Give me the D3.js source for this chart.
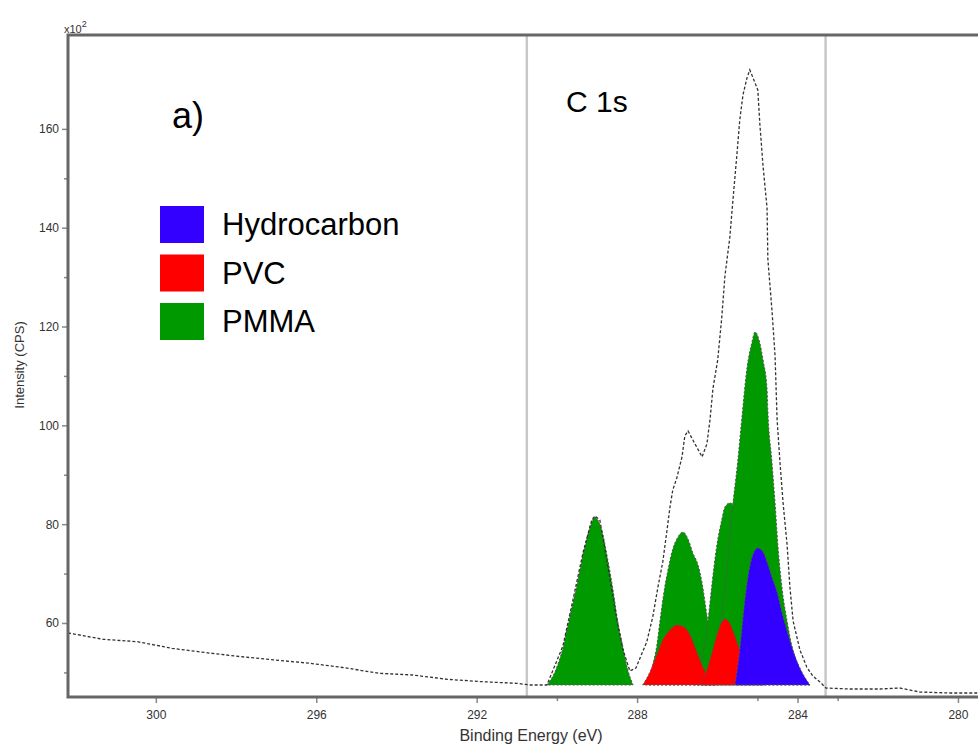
<!DOCTYPE html>
<html><head><meta charset="utf-8">
<script src="https://cdn.jsdelivr.net/npm/d3@7"></script>
<style>body{margin:0;background:#fff;} svg{display:block;font-family:"Liberation Sans",Arial,sans-serif;}</style>
</head><body><svg id="c" width="978" height="746"></svg>
<script>
// ---- data ----
const xTickValues = [300, 296, 292, 288, 284, 280];
const xMinorValues = [290, 285, 283];
const yTickValues = [60, 80, 100, 120, 140, 160];
const yMinorValues = [50, 70, 90, 110, 130, 150];
const regionBE = [290.75, 283.3];
const componentBase = 47.45;

const envelope = [
 [302.19,57.98],[301.31,56.70],[300.46,56.21],[299.60,54.88],[298.74,53.99],[297.88,53.18],
 [297.02,52.51],[296.16,51.84],[295.30,50.95],[294.44,49.82],[293.59,49.47],[292.73,48.60],
 [291.87,48.12],[291.01,47.79],[290.67,47.45],[290.25,47.45],
 [289.85,55.34],[289.60,64.66],[289.35,74.17],[289.13,80.85],[289.05,81.66],[288.93,80.85],
 [288.73,71.54],[288.50,60.40],[288.35,54.53],[288.18,50.28],[288.03,50.89],[287.76,56.15],
 [287.61,61.21],[287.48,67.29],[287.36,72.35],[287.26,78.42],[287.18,83.48],[287.11,86.92],
 [287.01,89.35],[286.88,93.60],[286.81,97.85],[286.73,98.87],[286.61,97.04],[286.38,93.60],
 [286.26,96.23],[286.18,101.30],[286.11,107.37],[285.99,113.24],[285.89,121.74],[285.81,130.24],
 [285.69,137.94],[285.61,145.63],[285.51,154.94],[285.44,161.82],[285.36,166.88],[285.26,170.32],
 [285.19,171.94],[285.11,170.32],[284.99,167.89],[284.94,161.01],[284.86,152.51],[284.76,144.01],
 [284.74,133.68],[284.64,123.56],[284.56,114.05],[284.51,101.30],[284.44,92.79],[284.36,84.29],
 [284.26,75.79],[284.19,67.29],[284.11,60.40],[283.94,54.53],[283.77,51.09],[283.62,49.27],
 [283.44,48.06],[283.29,46.84],[282.69,46.64],[281.95,46.64],[281.45,46.84],[280.95,46.03],
 [280.20,45.83],[279.50,45.83]
];

const pmma1 = [[290.25,47.45],[290.05,50.08],[289.85,54.94],[289.68,61.21],[289.50,67.69],[289.35,73.77],
 [289.23,77.81],[289.13,80.45],[289.05,81.46],[288.98,80.85],[288.85,77.81],[288.73,72.75],
 [288.60,66.68],[288.48,60.20],[288.35,54.94],[288.23,50.49],[288.10,47.45]];
const pmma2 = [[287.73,47.45],[287.61,51.50],[287.51,55.34],[287.43,60.40],[287.31,67.29],[287.23,70.73],
 [287.11,74.98],[286.98,77.41],[286.86,78.42],[286.73,77.00],[286.61,74.17],[286.48,71.74],
 [286.38,68.10],[286.26,61.62],[286.13,54.94],[285.99,47.45]];
const pmma3 = [[286.56,47.45],[286.38,52.51],[286.23,60.61],[286.13,68.10],[286.01,75.79],[285.89,80.85],
 [285.81,83.48],[285.69,84.29],[285.56,83.28],[285.44,80.45],[285.29,72.75],[285.14,62.63],
 [284.99,53.52],[284.81,47.45]];
const pmma4 = [[286.36,47.45],[286.13,51.50],[285.94,58.58],[285.76,70.73],[285.64,81.86],[285.49,92.79],
 [285.39,101.30],[285.26,111.62],[285.14,116.68],[285.06,118.91],[284.94,116.68],[284.86,113.24],
 [284.76,107.37],[284.74,103.12],[284.64,92.79],[284.56,84.29],[284.49,75.79],[284.39,67.29],
 [284.26,60.40],[284.14,55.34],[284.01,51.90],[283.89,49.27],[283.69,47.45]];
const pvc1 = [[287.86,47.45],[287.68,50.08],[287.51,53.52],[287.36,56.56],[287.18,58.58],[287.01,59.60],
 [286.83,59.19],[286.68,57.57],[286.53,54.53],[286.38,51.50],[286.23,49.07],[286.06,47.45]];
const pvc2 = [[286.43,47.45],[286.28,50.08],[286.13,54.13],[286.01,57.57],[285.91,59.80],[285.81,60.81],
 [285.71,60.20],[285.59,57.98],[285.44,54.53],[285.29,51.30],[285.11,49.07],[284.89,47.45]];
const hydrocarbon = [[285.56,47.45],[285.44,54.53],[285.34,62.63],[285.24,69.11],[285.14,73.16],[284.99,75.18],
 [284.86,74.37],[284.76,72.35],[284.64,69.31],[284.51,66.28],[284.39,62.23],[284.26,58.38],
 [284.11,54.33],[283.94,50.89],[283.69,47.45]];

const legendLabels = ["Hydrocarbon", "PVC", "PMMA"];
const legendColors = ["#3300ff", "#ff0000", "#009900"];

// ---- drawing ----
const svg = d3.select("#c");
const L = 68, R = 978, T = 35, B = 697;
const x = d3.scaleLinear().domain([302.19, 279.50]).range([L, R]);
const y = d3.scaleLinear().domain([45.02, 179.0]).range([B, T]);

// region lines
svg.selectAll("line.region").data(regionBE).enter().append("line")
  .attr("x1", d => x(d)).attr("x2", d => x(d)).attr("y1", T).attr("y2", B)
  .attr("stroke", "#c8c8c8").attr("stroke-width", 2.5);

const area = d3.area().x(d => x(d[0])).y0(y(componentBase)).y1(d => y(d[1])).curve(d3.curveMonotoneX);
const comps = [
  {d: pmma2, c: legendColors[2]}, {d: pmma1, c: legendColors[2]}, {d: pmma3, c: legendColors[2]},
  {d: pmma4, c: legendColors[2]}, {d: pvc1, c: legendColors[1]}, {d: pvc2, c: legendColors[1]},
  {d: hydrocarbon, c: legendColors[0]}
];
svg.selectAll("path.comp").data(comps).enter().append("path")
  .attr("d", d => area(d.d)).attr("fill", d => d.c)
  .attr("stroke", "#555").attr("stroke-width", 1).attr("stroke-dasharray", "2,2");

const line = d3.line().x(d => x(d[0])).y(d => y(d[1]));
svg.append("path").attr("d", line(envelope)).attr("fill", "none")
  .attr("stroke", "#333").attr("stroke-width", 1.3).attr("stroke-dasharray", "3,2");

// axes
const xAxis = d3.axisBottom(x).tickValues(xTickValues).tickSize(6).tickFormat(d3.format("d"));
const gx = svg.append("g").attr("transform", `translate(0,${B})`).call(xAxis);
gx.select(".domain").remove();
gx.selectAll(".tick line").attr("stroke", "#888").attr("stroke-width", 1.5);
gx.selectAll("text").attr("font-size", 12).attr("fill", "#333").attr("dy", "1.1em");
const gxm = svg.append("g").attr("transform", `translate(0,${B})`)
  .call(d3.axisBottom(x).tickValues(xMinorValues).tickSize(4).tickFormat(""));
gxm.select(".domain").remove();
gxm.selectAll(".tick line").attr("stroke", "#888").attr("stroke-width", 1.5);

const yAxis = d3.axisLeft(y).tickValues(yTickValues).tickSize(6).tickFormat(d3.format("d"));
const gy = svg.append("g").attr("transform", `translate(${L},0)`).call(yAxis);
gy.select(".domain").remove();
gy.selectAll(".tick line").attr("stroke", "#888").attr("stroke-width", 1.5);
gy.selectAll("text").attr("font-size", 12).attr("fill", "#333");
const gym = svg.append("g").attr("transform", `translate(${L},0)`)
  .call(d3.axisLeft(y).tickValues(yMinorValues).tickSize(4).tickFormat(""));
gym.select(".domain").remove();
gym.selectAll(".tick line").attr("stroke", "#888").attr("stroke-width", 1.5);

// frame
svg.append("path").attr("d", `M${R},${T}H${L}V${B}H${R}`).attr("fill", "none")
  .attr("stroke", "#666").attr("stroke-width", 3);

// texts
svg.append("text").attr("x", 64).attr("y", 33).attr("font-size", 11).attr("fill", "#333")
  .text("x10").append("tspan").attr("dy", -6).attr("font-size", 9).text("2");
svg.append("text").attr("transform", "translate(24,365) rotate(-90)").attr("text-anchor", "middle")
  .attr("font-size", 13).attr("fill", "#333").text("Intensity (CPS)");
svg.append("text").attr("x", 531).attr("y", 741).attr("text-anchor", "middle")
  .attr("font-size", 16).attr("fill", "#333").text("Binding Energy (eV)");
svg.append("text").attr("x", 172).attr("y", 128).attr("font-size", 36).attr("fill", "#000").text("a)");
svg.append("text").attr("x", 566).attr("y", 112).attr("font-size", 30).attr("fill", "#000").text("C 1s");

const lg = svg.selectAll("g.lg").data(legendLabels).enter().append("g")
  .attr("transform", (d, i) => `translate(160,${206 + i * 48.5})`);
lg.append("rect").attr("width", 44).attr("height", 37).attr("fill", (d, i) => legendColors[i]);
lg.append("text").attr("x", 62).attr("y", 29).attr("font-size", 31).attr("fill", "#000").text(d => d);
</script></body></html>
